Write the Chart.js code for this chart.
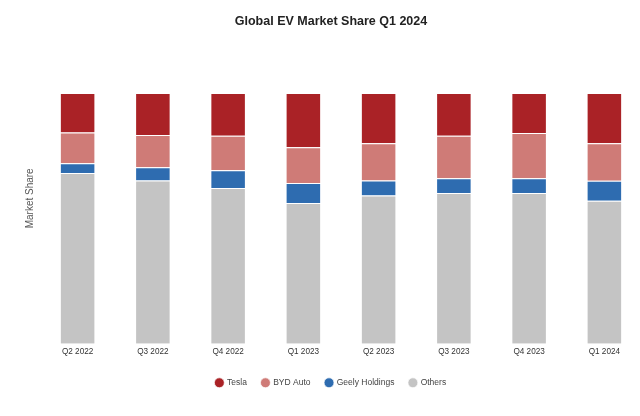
<!DOCTYPE html>
<html>
<head>
<meta charset="utf-8">
<script src="https://cdn.jsdelivr.net/npm/chart.js@4"></script>
<style>
html,body{margin:0;padding:0;background:#fff;overflow:hidden;}
#wrap{position:relative;width:666px;height:416px;}
</style>
</head>
<body>
<div id="wrap"><canvas id="c"></canvas></div>
<script>
const categories = ["Q2 2022","Q3 2022","Q4 2022","Q1 2023","Q2 2023","Q3 2023","Q4 2023","Q1 2024"];
const tesla  = [15.7, 16.7, 17.0, 21.6, 20.0, 17.0, 15.9, 20.0];
const byd    = [12.3, 12.9, 13.8, 14.3, 14.9, 17.0, 18.1, 15.0];
const geely  = [3.9, 5.3, 7.1, 8.0, 6.0, 5.9, 5.9, 8.0];
const others = [68.1, 65.1, 62.1, 56.1, 59.1, 60.1, 60.1, 57.0];

const FONT = "'Liberation Sans', Arial, Helvetica, sans-serif";
Chart.defaults.font.family = FONT;

const mk = (label, data, color) => ({
  label, data, backgroundColor: color, borderColor: 'rgba(255,255,255,0.7)', borderWidth: 1,
  categoryPercentage: 0.8, barPercentage: 0.59
});

new Chart(document.getElementById('c'), {
  type: 'bar',
  data: {
    labels: categories,
    datasets: [
      mk('Others', others, '#c4c4c4'),
      mk('Geely Holdings', geely, '#2e6cb0'),
      mk('BYD Auto', byd, '#cf7b77'),
      mk('Tesla', tesla, '#aa2226')
    ]
  },
  options: {
    responsive: true,
    maintainAspectRatio: false,
    animation: false,
    layout: { padding: { left: 20, right: 24, top: 10, bottom: 19 } },
    plugins: {
      title: {
        display: true, text: 'Global EV Market Share Q1 2024',
        color: '#222', font: { size: 12.5, weight: 'bold', family: FONT },
        padding: { top: 4, bottom: 24 }
      },
      legend: {
        position: 'bottom', reverse: true,
        labels: { usePointStyle: true, pointStyle: 'circle', boxWidth: 7, boxHeight: 7,
          color: '#444', font: { size: 8.5, family: FONT }, padding: 15 }
      },
      tooltip: { enabled: false }
    },
    scales: {
      x: {
        stacked: true,
        grid: { display: false, drawTicks: false }, border: { display: false },
        ticks: { color: '#333', font: { size: 8.2, family: FONT }, padding: 3 },
        afterFit: (axis) => { axis.height = axis.height + 4; }
      },
      y: {
        stacked: true, min: 0, max: 116,
        grid: { display: false, drawTicks: false }, border: { display: false },
        ticks: { display: false },
        title: { display: true, text: 'Market Share', color: '#555', font: { size: 10, family: FONT } },
        afterFit: (axis) => { axis.width = 20; }
      }
    }
  }
});
</script>
</body>
</html>
